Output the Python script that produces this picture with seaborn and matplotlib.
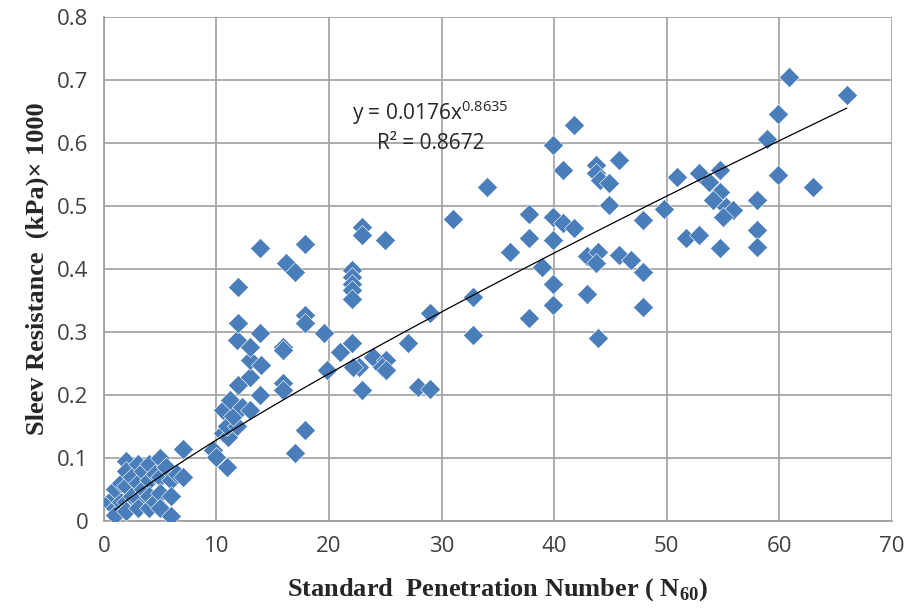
import numpy as np
import pandas as pd
import matplotlib
matplotlib.use("Agg")
import matplotlib.pyplot as plt
import seaborn as sns

# SPT N60 vs sleeve resistance
n60 = [0.5, 1, 1, 1, 1, 1.5, 1.5, 2, 2, 2, 2, 2, 2.5, 2.5, 3, 3, 3, 3, 3.5, 3.5,
       4, 4, 4, 4, 4.5, 4.5, 5, 5, 5, 5, 5.5, 6, 6, 6, 6.5, 7, 7,
       9.7, 10, 10.9, 10.6, 11, 10.9, 11.8, 10.6, 11.5, 11.2, 12.3, 13, 11.9, 13,
       13.85, 13, 14, 11.8, 13, 13.85, 11.96, 15.9, 15.9, 15.9, 15.9, 11.96, 13.85,
       16.2, 17, 17.9, 17.9, 17.9, 17.9, 17, 19.6, 19.8,
       22.9, 22.9, 24.95, 31, 22, 22, 22, 22, 22, 32.8, 28.95, 32.8, 22, 20.96,
       27, 23.9, 25.1, 24.7, 22.7, 22.1, 25.1, 22.9, 27.9, 28.95, 34,
       41.8, 39.9, 40.8, 43.75, 43.75, 44.05, 44.9, 45.8, 44.9, 37.8, 39.9, 40.8,
       41.8, 37.8, 39.9, 36.1, 42.9, 43.9, 43.75, 45.8, 46.8, 38.9, 39.9, 42.9,
       39.9, 37.8, 43.9,
       60.9, 66, 59.9, 58.9, 50.9, 52.9, 54.7, 53.8, 54.7, 54.1, 55.3, 55.9, 55,
       59.9, 63, 49.8, 58, 47.9, 51.7, 52.9, 54.7, 58, 58, 47.9, 47.9]
sleeve = [0.03, 0.02, 0.04, 0.01, 0.05, 0.03, 0.06, 0.095, 0.08, 0.055, 0.03, 0.015,
          0.07, 0.04, 0.09, 0.06, 0.035, 0.02, 0.08, 0.05, 0.09, 0.065, 0.04, 0.02,
          0.075, 0.03, 0.1, 0.07, 0.045, 0.02, 0.085, 0.065, 0.04, 0.008, 0.075,
          0.115, 0.07,
          0.113, 0.102, 0.086, 0.14, 0.133, 0.15, 0.15, 0.176, 0.166, 0.192, 0.181,
          0.176, 0.216, 0.229, 0.2, 0.256, 0.248, 0.287, 0.277, 0.298, 0.314,
          0.277, 0.271, 0.219, 0.208, 0.371, 0.433, 0.409, 0.396, 0.44, 0.327,
          0.314, 0.144, 0.108, 0.298, 0.24,
          0.467, 0.454, 0.446, 0.48, 0.398, 0.388, 0.377, 0.367, 0.353, 0.356,
          0.33, 0.295, 0.282, 0.269, 0.282, 0.261, 0.256, 0.245, 0.245, 0.245,
          0.24, 0.208, 0.213, 0.21, 0.531,
          0.629, 0.597, 0.557, 0.565, 0.552, 0.541, 0.536, 0.573, 0.502, 0.488,
          0.483, 0.473, 0.465, 0.449, 0.446, 0.427, 0.42, 0.427, 0.409, 0.422,
          0.414, 0.404, 0.377, 0.361, 0.343, 0.322, 0.29,
          0.705, 0.676, 0.647, 0.607, 0.547, 0.552, 0.557, 0.539, 0.523, 0.51,
          0.499, 0.494, 0.483, 0.549, 0.531, 0.496, 0.51, 0.478, 0.449, 0.454,
          0.433, 0.462, 0.435, 0.396, 0.34]

# power trendline as printed on the chart
fit_a = 0.0176
fit_b = 0.8635
fit_r2 = 0.8672
fit_x = np.linspace(1, 66, 200)

x_ticks = [0, 10, 20, 30, 40, 50, 60, 70]
y_ticks = [0, 0.1, 0.2, 0.3, 0.4, 0.5, 0.6, 0.7, 0.8]
y_tick_labels = ["0", "0.1", "0.2", "0.3", "0.4", "0.5", "0.6", "0.7", "0.8"]

df = pd.DataFrame({"N60": n60, "fs": sleeve})
trend = pd.DataFrame({"x": fit_x, "y": fit_a * fit_x ** fit_b})

sns.set_style("whitegrid")
plt.rcParams["font.family"] = ["Open Sans", "DejaVu Sans"]
# math text: serif bold for the axis subscript, sans for the equation exponent
plt.rcParams["mathtext.fontset"] = "custom"
plt.rcParams["mathtext.rm"] = "Liberation Serif:bold"
plt.rcParams["mathtext.sf"] = "Open Sans"

fig, ax = plt.subplots(figsize=(9.11, 6.15), dpi=100)
fig.subplots_adjust(left=0.114, right=0.979, top=0.972, bottom=0.153)

sns.scatterplot(data=df, x="N60", y="fs", marker="D", s=105, color="#4a7ebb",
                edgecolor="white", linewidth=0.4, ax=ax, zorder=3)
sns.lineplot(data=trend, x="x", y="y", color="black", linewidth=0.9, ax=ax, zorder=4)

ax.set_xlim(0, 70)
ax.set_ylim(0, 0.8)
ax.set_xticks(x_ticks)
ax.set_yticks(y_ticks)
ax.set_yticklabels(y_tick_labels)
ax.tick_params(axis="both", labelsize=16, colors="#404040", length=6,
               width=1.2, direction="out", pad=5)
ax.tick_params(axis="both", color="#a0a0a0")
ax.grid(True, color="#a6a6a6", linewidth=1.3)

for side in ["top", "right"]:
    ax.spines[side].set_visible(False)
for side in ["left", "bottom"]:
    ax.spines[side].set_color("#a0a0a0")
    ax.spines[side].set_linewidth(1.3)

lab = dict(family="Liberation Serif", fontweight="bold", fontsize=19, color="#262626")
ax.set_xlabel("Standard  Penetration Number ( N$_{\\mathrm{60}}$)", labelpad=14, **lab)
ax.set_ylabel("Sleev Resistance  (kPa)\u00d7 1000", labelpad=6, **lab)

ax.text(22.0, 0.648, "y = %.4fx$^{\\mathsf{%.4f}}$" % (fit_a, fit_b), fontsize=15,
        color="#262626", ha="left", va="center", zorder=5)
ax.text(24.3, 0.600, "R\u00b2 = %.4f" % fit_r2, fontsize=15,
        color="#262626", ha="left", va="center", zorder=5)

fig.savefig("out.png", dpi=100)
